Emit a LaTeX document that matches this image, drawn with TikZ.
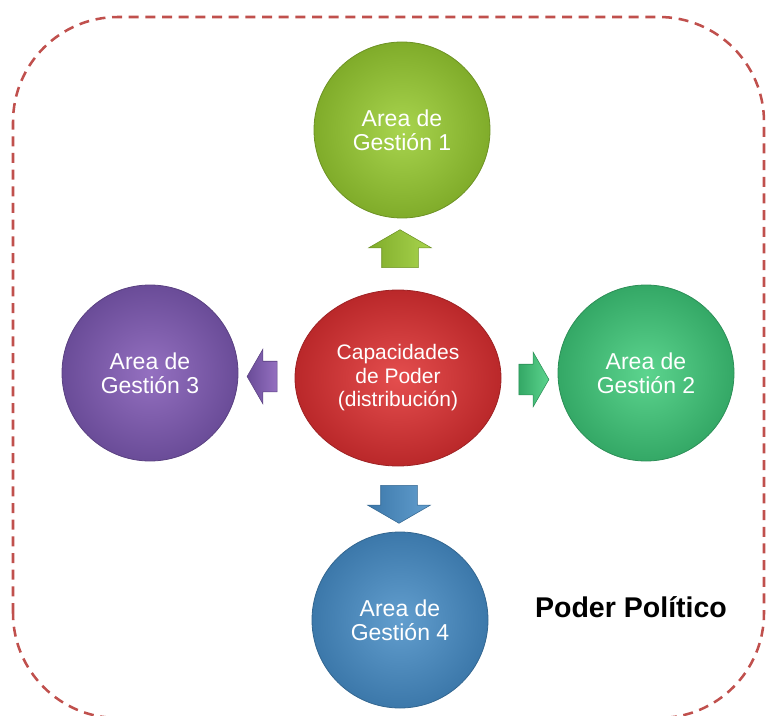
\documentclass[tikz,border=0pt]{standalone}
\usepackage{fontspec}
\setmainfont{Liberation Sans}
\usetikzlibrary{calc, shapes.geometric, shapes.arrows}

\definecolor{bordeRojo}{RGB}{192,80,77}
\definecolor{verdeA}{RGB}{168,212,78}
\definecolor{verdeB}{RGB}{128,172,42}
\definecolor{turqA}{RGB}{92,212,142}
\definecolor{turqB}{RGB}{52,168,102}
\definecolor{moradoA}{RGB}{148,112,192}
\definecolor{moradoB}{RGB}{106,76,152}
\definecolor{azulA}{RGB}{98,158,206}
\definecolor{azulB}{RGB}{60,120,170}
\definecolor{rojoA}{RGB}{228,78,78}
\definecolor{rojoB}{RGB}{186,40,42}

\tikzset{
    area/.style 2 args={circle, minimum size=132pt, inner sep=0pt, align=center,
        text=white, font=\fontsize{17.25}{18}\selectfont,
        draw=#2!85!black, line width=0.6pt,
        shading=radial, inner color=#1, outer color=#2},
    centro/.style 2 args={ellipse, minimum width=154.5pt, minimum height=132pt,
        inner sep=0pt, align=center, text=white,
        font=\fontsize{15.75}{17.6}\selectfont,
        draw=#2!85!black, line width=0.6pt,
        shading=radial, inner color=#1, outer color=#2},
    flecha/.style 2 args={single arrow, inner xsep=0pt, single arrow tip angle=120,
        draw=#2!85!black, line width=0.4pt,
        shading=axis, left color=#2, right color=#1},
    flechaV/.style={minimum height=28.5pt, inner ysep=13.5pt,
        single arrow head extend=9.75pt},
    flechaH/.style={minimum height=22.5pt, inner ysep=11.25pt,
        single arrow head extend=9pt}
}

\begin{document}
\begin{tikzpicture}[x=0.75pt, y=0.75pt]
    \useasboundingbox (0,0) rectangle (766,715);
    \clip (0,0) rectangle (766,715);

    \draw[bordeRojo, line width=1.9pt, dash pattern=on 7.5pt off 5pt,
        rounded corners=78.75pt] (13,-3) rectangle (764,698);

    \node[area={verdeA}{verdeB}] (g1) at (402,585) {Area de\\Gestión 1};
    \node[area={turqA}{turqB}] (g2) at (646,342) {Area de\\Gestión 2};
    \node[area={moradoA}{moradoB}] (g3) at (150,342) {Area de\\Gestión 3};
    \node[area={azulA}{azulB}] (g4) at (400,95) {Area de\\Gestión 4};

    \node[centro={rojoA}{rojoB}] (cap) at (398,337) {Capacidades\\de Poder\\(distribución)};

    \node[flecha={verdeA}{verdeB}, flechaV, rotate=90] (fUp)
        at ($(cap.north)!0.5!(g1.south)$) {};
    \node[flecha={turqA}{turqB}, flechaH] (fRight)
        at ($(cap.east)!0.5!(g2.west)+(0,-4)$) {};
    \node[flecha={moradoA}{moradoB}, flechaH, rotate=180] (fLeft)
        at ($(cap.west)!0.5!(g3.east)+(0,-1)$) {};
    \node[flecha={azulA}{azulB}, flechaV, rotate=-90] (fDown)
        at ($(cap.south)!0.5!(g4.north)$) {};

    \node[font=\fontsize{21.4}{24}\selectfont\bfseries] (pp) at (631,108) {Poder Político};
\end{tikzpicture}
\end{document}
